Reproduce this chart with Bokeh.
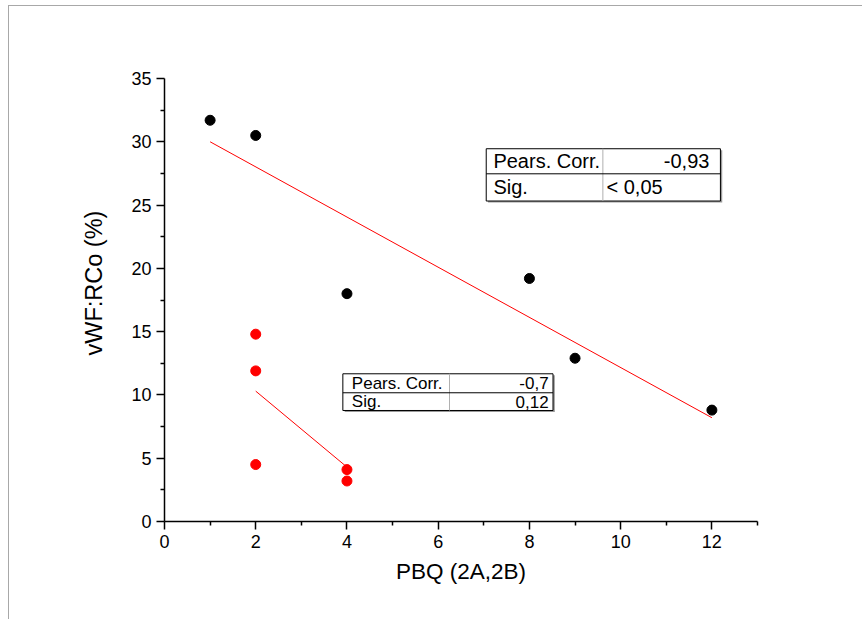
from bokeh.plotting import figure
from bokeh.models import Range1d, FixedTicker, Title, InlineStyleSheet
from bokeh.core.properties import value
from bokeh.embed import file_html
from bokeh.resources import INLINE

# ---- data ----
pbq_black = [1, 2, 4, 8, 9, 12]
vwf_black = [31.7, 30.5, 18.0, 19.2, 12.9, 8.8]
pbq_red = [2, 2, 2, 4, 4]
vwf_red = [14.8, 11.9, 4.5, 4.1, 3.2]
fit_black_x = [1, 12]
fit_black_y = [30.0, 8.2]
fit_red_x = [2, 4]
fit_red_y = [10.3, 4.3]

x_ticks = [0, 2, 4, 6, 8, 10, 12]
x_minor = [1, 3, 5, 7, 9, 11, 13]
y_ticks = [0, 5, 10, 15, 20, 25, 30, 35]
y_minor = [2.5, 7.5, 12.5, 17.5, 22.5, 27.5, 32.5]

table1_labels = ["Pears. Corr.", "Sig."]
table1_values = ["-0,93", "< 0,05"]
table2_labels = ["Pears. Corr.", "Sig."]
table2_values = ["-0,7", "0,12"]

FONT = "Liberation Sans"

frame_css = InlineStyleSheet(css="""
:host { position: relative; }
:host::after {
  content: ''; position: absolute; left: 8px; top: 5px; right: 0; bottom: 0;
  border-left: 1.5px solid #a8a8a8; border-top: 1.5px solid #a8a8a8;
  pointer-events: none;
}
""")

p = figure(width=862, height=619, output_backend="svg", toolbar_location=None,
           x_range=Range1d(0, 13), y_range=Range1d(0, 35),
           min_border_left=164, min_border_right=105,
           min_border_top=78, min_border_bottom=98,
           stylesheets=[frame_css])
p.xgrid.visible = False
p.ygrid.visible = False
p.outline_line_color = None
p.background_fill_color = "white"
p.border_fill_color = "white"

for ax in (p.xaxis[0], p.yaxis[0]):
    ax.axis_line_width = 1.5
    ax.axis_line_color = "black"
    ax.major_tick_line_width = 1.5
    ax.minor_tick_line_width = 1.5
    ax.major_tick_out = 8
    ax.major_tick_in = 0
    ax.minor_tick_out = 4
    ax.minor_tick_in = 0
    ax.major_label_text_font = FONT
    ax.major_label_text_font_size = "18px"
    ax.major_label_text_color = "black"

p.xaxis[0].ticker = FixedTicker(ticks=x_ticks, minor_ticks=x_minor)
p.yaxis[0].ticker = FixedTicker(ticks=y_ticks, minor_ticks=y_minor)
p.xaxis[0].major_label_standoff = 5
p.yaxis[0].major_label_standoff = 5
p.xaxis[0].axis_label = "PBQ (2A,2B)"
p.xaxis[0].axis_label_text_font = FONT
p.xaxis[0].axis_label_text_font_size = "22.5px"
p.xaxis[0].axis_label_text_font_style = "normal"
p.xaxis[0].axis_label_text_color = "black"
p.xaxis[0].axis_label_standoff = 8

# y label as a left-side title, shifted up a little as in the reference
p.add_layout(Title(text="vWF:RCo (%)", align="left", offset=166,
                   text_font=FONT, text_font_size="23.5px", text_font_style="normal",
                   text_color="black", standoff=44), "left")

# fit lines
p.line(fit_black_x, fit_black_y, line_color="red", line_width=1)
p.line(fit_red_x, fit_red_y, line_color="red", line_width=1)

# points
p.scatter(pbq_black, vwf_black, size=10, color="black")
p.scatter(pbq_red, vwf_red, size=10, color="red")

# statistic tables
def table(left, right, div, top, mid, bottom, labels, values, size, val_align, lab_x, val_x):
    p.quad(left=[left + 0.04], right=[right + 0.04], top=[top - 0.12], bottom=[bottom - 0.12],
           fill_color="#9a9a9a", line_color=None)
    p.quad(left=[left], right=[right], top=[top], bottom=[bottom],
           fill_color="white", line_color="black", line_width=1)
    p.segment(x0=[div], y0=[top], x1=[div], y1=[bottom], line_color="#b0b0b0", line_width=1)
    p.segment(x0=[left], y0=[mid], x1=[right], y1=[mid], line_color="black", line_width=1)
    ys = [(top + mid) / 2, (mid + bottom) / 2]
    p.text(x=[lab_x] * 2, y=ys, text=labels, text_font=value(FONT), text_font_size=size,
           text_align="left", text_baseline="middle", text_color="black")
    vx = [val_x if a == "right" else div + 0.08 for a in val_align]
    for i in range(2):
        p.text(x=[vx[i]], y=[ys[i]], text=[values[i]], text_font=value(FONT), text_font_size=size,
               text_align=val_align[i], text_baseline="middle", text_color="black")

table(7.053, 12.187, 9.61, 29.45, 27.47, 25.32, table1_labels, table1_values, "20px",
      ["right", "left"], 7.21, 11.946)
table(3.91, 8.517, 6.248, 11.67, 10.17, 8.77, table2_labels, table2_values, "17px",
      ["right", "right"], 4.107, 8.42)

open("out.html", "w").write(file_html(p, INLINE))
